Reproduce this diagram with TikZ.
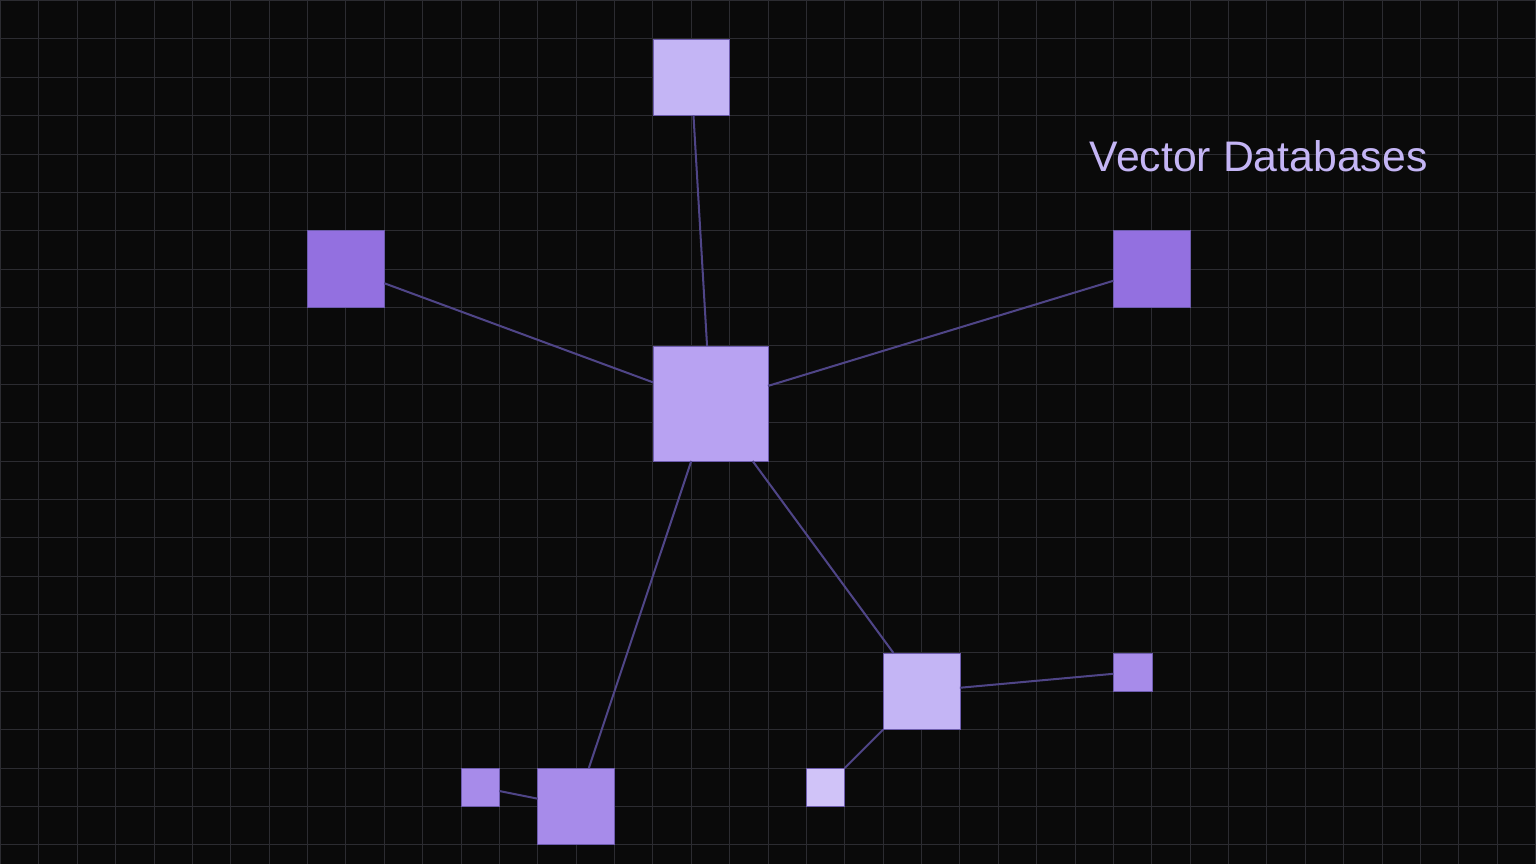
\documentclass[tikz,border=0pt]{standalone}
\usepackage{fontspec}
\setmainfont{Liberation Sans}
\usepackage{xcolor}
\usepackage{tikz}

\definecolor{bg}{HTML}{0A0A0A}
\definecolor{gridc}{HTML}{2C2C31}
\definecolor{wire}{HTML}{4F4587}
\definecolor{edge}{HTML}{6E5DAE}
\definecolor{lilac}{HTML}{C4B5F5}
\definecolor{hubc}{HTML}{B8A2F2}
\definecolor{violet}{HTML}{9370E0}
\definecolor{mauve}{HTML}{A78BEA}
\definecolor{pale}{HTML}{D0C3F8}

\begin{document}
\begin{tikzpicture}[every node/.style={rectangle, inner sep=0pt, outer sep=0pt, draw=edge, line width=.4pt}]
\fill[bg] (0,0) rectangle (40,-22.5);
\draw[gridc, line width=.7pt] (0,-22.5) grid (40,0);

\node(hub)[minimum size=3cm, fill=hubc] at (18.5,-10.5) {};
\node(top)[minimum size=2cm, fill=lilac] at (18,-2) {};
\node(left)[minimum size=2cm, fill=violet] at (9,-7) {};
\node(right)[minimum size=2cm, fill=violet] at (30,-7) {};

\node(mid)[minimum size=2cm, fill=lilac] at (24,-18) {};
\node(midr)[minimum size=1cm, fill=mauve] at (29.5,-17.5) {};
\node(midb)[minimum size=1cm, fill=pale] at (21.5,-20.5) {};

\node(low)[minimum size=2cm, fill=mauve] at (15,-21) {};
\node(lowl)[minimum size=1cm, fill=mauve] at (12.5,-20.5) {};

\node(title)[anchor=base west, draw=none, text=lilac, font=\fontsize{31.7}{38}\selectfont] at (28.39,-4.45) {Vector Databases};



\draw[wire, line width=1.5pt] (hub) -- (top);
\draw[wire, line width=1.5pt] (hub) -- (left);
\draw[wire, line width=1.5pt] (hub) -- (right);
\draw[wire, line width=1.5pt] (hub) -- (low);
\draw[wire, line width=1.5pt] (hub) -- (mid);
\draw[wire, line width=1.5pt] (mid) -- (midr);
\draw[wire, line width=1.5pt] (mid) -- (midb);
\draw[wire, line width=1.5pt] (low) -- (lowl);
\end{tikzpicture}
\end{document}
